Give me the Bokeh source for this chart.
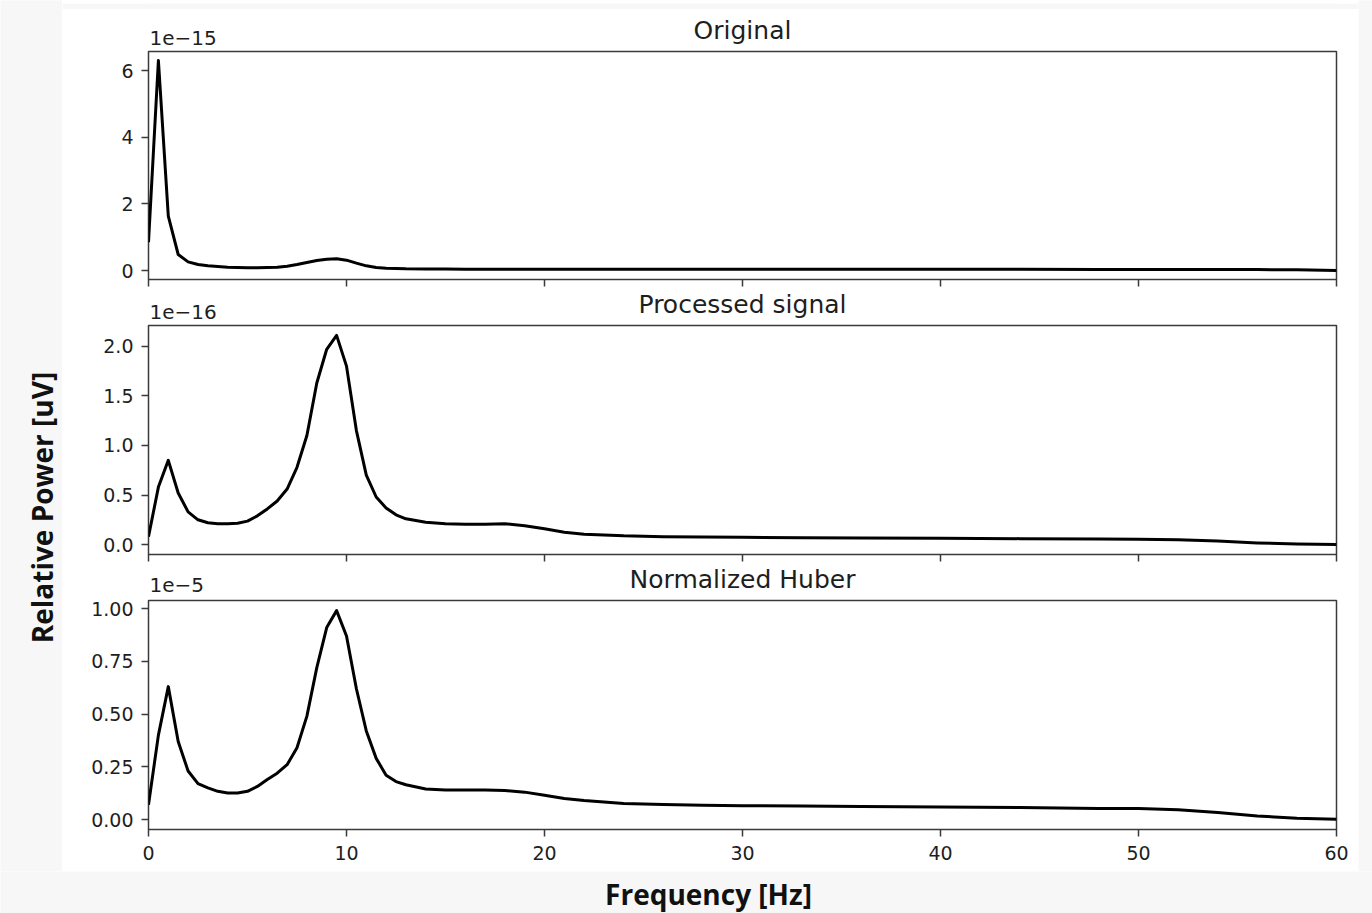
import math
from bokeh.plotting import figure
from bokeh.models import Range1d, FixedTicker, NumeralTickFormatter, Label
from bokeh.layouts import column, row
from bokeh.embed import file_html
from bokeh.resources import INLINE

# ---------------- data (values in the units shown on each axis) ----------------
freq = [0, 0.5, 1, 1.5, 2, 2.5, 3, 3.5, 4, 4.5, 5, 5.5, 6, 6.5, 7, 7.5, 8, 8.5, 9,
        9.5, 10, 10.5, 11, 11.5, 12, 12.5, 13,
        14, 15, 16, 17, 18, 19, 20, 21, 22, 24, 26, 28, 30, 33, 36, 40, 44, 48,
        50, 52, 54, 56, 58, 60]

# Original, x 1e-15
original = [0.85, 6.3, 1.63, 0.48, 0.26, 0.18, 0.14, 0.12, 0.10, 0.09, 0.085, 0.085,
            0.09, 0.10, 0.13, 0.18, 0.24, 0.30, 0.34, 0.35, 0.31, 0.22, 0.14, 0.09,
            0.07, 0.06, 0.05,
            0.045, 0.042, 0.04, 0.04, 0.04, 0.04, 0.04, 0.04, 0.04, 0.039, 0.038,
            0.037, 0.036, 0.035, 0.035, 0.034, 0.034, 0.033, 0.033, 0.032, 0.03,
            0.027, 0.02, 0.0]

# Processed signal, x 1e-16
processed = [0.08, 0.58, 0.85, 0.52, 0.33, 0.25, 0.22, 0.21, 0.21, 0.215, 0.237,
             0.29, 0.36, 0.44, 0.56, 0.78, 1.10, 1.63, 1.97, 2.11, 1.80, 1.15, 0.70,
             0.48, 0.37, 0.30, 0.26,
             0.225, 0.21, 0.205, 0.205, 0.21, 0.19, 0.16, 0.125, 0.105, 0.088, 0.08,
             0.076, 0.073, 0.07, 0.066, 0.064, 0.06, 0.057, 0.055, 0.05, 0.035,
             0.017, 0.006, 0.002]

# Normalized Huber, x 1e-5
huber = [0.07, 0.40, 0.63, 0.37, 0.23, 0.17, 0.15, 0.134, 0.126, 0.126, 0.134,
         0.157, 0.19, 0.22, 0.26, 0.34, 0.49, 0.72, 0.91, 0.99, 0.87, 0.62, 0.42,
         0.29, 0.21, 0.18, 0.165,
         0.145, 0.14, 0.14, 0.14, 0.138, 0.13, 0.115, 0.10, 0.09, 0.076, 0.072,
         0.068, 0.066, 0.064, 0.062, 0.06, 0.057, 0.053, 0.052, 0.047, 0.033,
         0.017, 0.006, 0.002]

titles = ["Original", "Processed signal", "Normalized Huber"]
offsets = ["1e\u221215", "1e\u221216", "1e\u22125"]
x_ticks = [0, 10, 20, 30, 40, 50, 60]
y_ticks = [[0, 2, 4, 6], [0.0, 0.5, 1.0, 1.5, 2.0], [0.0, 0.25, 0.5, 0.75, 1.0]]
y_formats = ["0", "0.0", "0.00"]
y_limits = [(-0.27, 6.57), (-0.1, 2.21), (-0.047, 1.038)]
x_label = "Frequency [Hz]"
y_label = "Relative Power [uV]"

GRAY = "#f7f7f7"
TXT = "#1e1e1e"
EDGE = "#3a3a3a"
TICK_FONT = "DejaVu Sans"
FRAME_W = 1188
BL, BR = 86, 22
LEFT_W, RIGHT_W = 62, 14
COL_W = BL + FRAME_W + BR


def header(i, h, title_y, offset_y):
    """White strip above a panel holding its title and its scale factor."""
    f = figure(frame_width=FRAME_W, frame_height=h,
               x_range=Range1d(0, 60), y_range=Range1d(h, 0),
               output_backend="svg", toolbar_location=None, title_location=None,
               x_axis_type=None, y_axis_type=None,
               min_border_left=BL, min_border_right=BR,
               min_border_top=0, min_border_bottom=0,
               background_fill_color="white", border_fill_color="white")
    f.outline_line_color = None
    f.grid.visible = False
    f.add_layout(Label(x=30, y=title_y, text=titles[i],
                       text_align="center", text_baseline="middle",
                       text_font=TICK_FONT, text_font_size="25px",
                       text_color=TXT))
    f.add_layout(Label(x=0, y=offset_y, x_offset=1, text=offsets[i],
                       text_align="left", text_baseline="middle",
                       text_font=TICK_FONT, text_font_size="20px",
                       text_color=TXT))
    return f


def panel(i, ys, frame_h, top, bottom, show_x):
    p = figure(frame_width=FRAME_W, frame_height=frame_h,
               x_range=Range1d(0, 60), y_range=Range1d(*y_limits[i]),
               output_backend="svg", toolbar_location=None, title_location=None,
               min_border_left=BL, min_border_right=BR,
               min_border_top=top, min_border_bottom=bottom,
               background_fill_color="white", border_fill_color="white")
    p.line(freq, ys, line_color="black", line_width=3, line_join="round")
    p.grid.visible = False
    p.outline_line_color = EDGE
    p.outline_line_width = 1.5

    xa = p.xaxis[0]
    xa.ticker = FixedTicker(ticks=x_ticks)
    xa.axis_line_color = None
    xa.major_tick_in = 0
    xa.major_tick_out = 7
    xa.major_tick_line_color = EDGE
    xa.major_tick_line_width = 1.5
    xa.minor_tick_line_color = None
    if show_x:
        xa.major_label_text_font = TICK_FONT
        xa.major_label_text_font_size = "19px"
        xa.major_label_text_color = TXT
        xa.major_label_standoff = 9
    else:
        xa.major_label_overrides = {t: "" for t in x_ticks}
        xa.major_label_text_font_size = "0px"
        xa.major_label_standoff = 0

    ya = p.yaxis[0]
    ya.ticker = FixedTicker(ticks=y_ticks[i])
    ya.formatter = NumeralTickFormatter(format=y_formats[i])
    ya.axis_line_color = None
    ya.major_tick_in = 0
    ya.major_tick_out = 7
    ya.major_tick_line_color = EDGE
    ya.major_tick_line_width = 1.5
    ya.minor_tick_line_color = None
    ya.major_label_text_font = TICK_FONT
    ya.major_label_text_font_size = "19px"
    ya.major_label_text_color = TXT
    ya.major_label_standoff = 8
    return p


def filler(w, h):
    f = figure(width=w, height=h, x_range=Range1d(0, w), y_range=Range1d(h, 0),
               output_backend="svg", toolbar_location=None, title_location=None,
               x_axis_type=None, y_axis_type=None, min_border=0,
               min_border_left=0, min_border_right=0,
               min_border_top=0, min_border_bottom=0,
               background_fill_color=GRAY, border_fill_color=GRAY)
    f.outline_line_color = None
    f.grid.visible = False
    return f


h1 = header(0, 41, 21, 28)
p1 = panel(0, original, 228, 1, 8, False)
h2 = header(1, 37, 17, 24)
p2 = panel(1, processed, 229, 1, 8, False)
h3 = header(2, 34, 17, 22)
p3 = panel(2, huber, 229, 4, 42, True)

left = filler(LEFT_W, 871)
left.add_layout(Label(x=41, y=507, text=y_label, angle=math.pi / 2,
                      text_align="center", text_baseline="middle",
                      text_font="Open Sans", text_font_style="bold",
                      text_font_size="28px", text_color="#111111"))
top = filler(COL_W, 9)
right = filler(RIGHT_W, 871)
bottom = filler(LEFT_W + COL_W + RIGHT_W, 42)
bottom.add_layout(Label(x=708, y=22, text=x_label,
                        text_align="center", text_baseline="middle",
                        text_font="Open Sans", text_font_style="bold",
                        text_font_size="28px", text_color="#111111"))

layout = column(row(left, column(top, h1, p1, h2, p2, h3, p3), right), bottom)

open("out.html", "w").write(file_html(layout, INLINE))
